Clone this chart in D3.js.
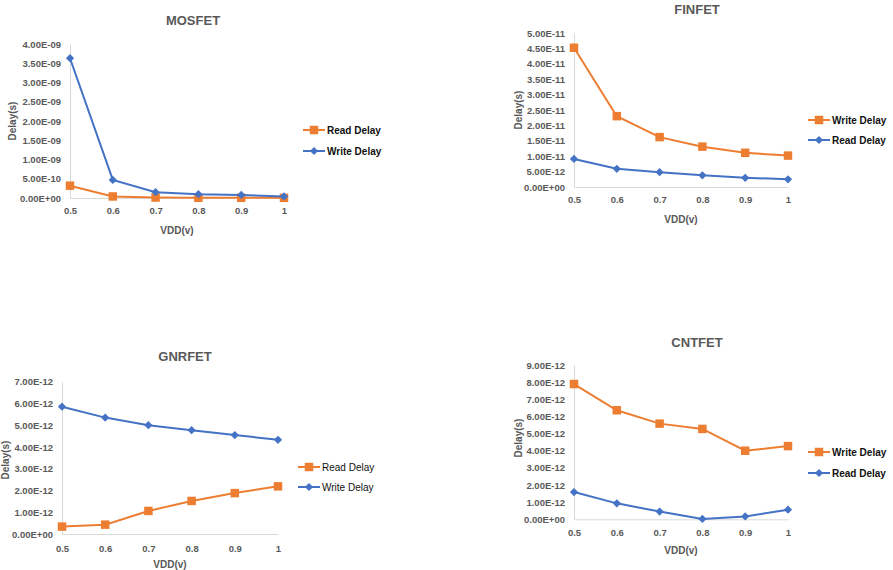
<!DOCTYPE html>
<html lang="en">
<head>
<meta charset="UTF-8">
<title>Delay vs VDD</title>
<script src="https://cdn.jsdelivr.net/npm/d3@7/dist/d3.min.js"></script>
<style>
  body { margin: 0; background: #fff; }
  svg { font-family: "Liberation Sans", Arial, sans-serif; }
</style>
</head>
<body>
<svg width="893" height="570"></svg>
<script>
// VDD sweep shared by every panel
var vdd = [0.5, 0.6, 0.7, 0.8, 0.9, 1];

// MOSFET
var mosRead  = [0.32e-9, 0.04e-9, 0.012e-9, 0.006e-9, 0.005e-9, 0.004e-9];
var mosWrite = [3.63e-9, 0.47e-9, 0.15e-9, 0.10e-9, 0.08e-9, 0.04e-9];
// FINFET
var finWrite = [4.52e-11, 2.30e-11, 1.62e-11, 1.31e-11, 1.11e-11, 1.02e-11];
var finRead  = [0.91e-11, 0.59e-11, 0.48e-11, 0.38e-11, 0.30e-11, 0.25e-11];
// GNRFET
var gnrRead  = [0.34e-12, 0.43e-12, 1.06e-12, 1.52e-12, 1.88e-12, 2.19e-12];
var gnrWrite = [5.85e-12, 5.35e-12, 5.00e-12, 4.77e-12, 4.55e-12, 4.33e-12];
// CNTFET
var cntWrite = [7.89e-12, 6.36e-12, 5.58e-12, 5.27e-12, 4.00e-12, 4.27e-12];
var cntRead  = [1.59e-12, 0.93e-12, 0.45e-12, 0.02e-12, 0.17e-12, 0.56e-12];

var orange = "#ED7D31", blue = "#4472C4";
var svg = d3.select("svg");

// Excel style "4.00E-09"
function sci(v) {
  if (Math.abs(v) < 1e-30) return "0.00E+00";
  var p = v.toExponential(2).split("e");
  var ex = +p[1];
  var s = ex < 0 ? "-" : "+";
  ex = Math.abs(ex);
  return p[0] + "E" + s + (ex < 10 ? "0" + ex : ex);
}

function panel(cfg) {
  var g = svg.append("g");
  var x = d3.scaleLinear().domain([0.5, 1]).range([cfg.x0, cfg.x1]);
  var y = d3.scaleLinear().domain([0, cfg.max]).range([cfg.yb, cfg.yt]);

  var yt = d3.range(0, cfg.max + cfg.step / 2, cfg.step);
  g.append("g").attr("transform", "translate(" + cfg.x0 + ",0)")
    .call(d3.axisLeft(y).tickValues(yt).tickFormat(sci).tickSize(0).tickPadding(9));
  g.append("g").attr("transform", "translate(0," + cfg.yb + ")")
    .call(d3.axisBottom(x).tickValues(vdd).tickFormat(d3.format("")).tickSize(0).tickPadding(cfg.xpad));
  g.selectAll(".domain").attr("stroke", "#d9d9d9");
  g.selectAll(".tick text").attr("fill", "#595959").attr("font-size", 9.5).attr("font-weight", "bold");

  g.append("text").attr("x", cfg.tx).attr("y", cfg.ty).attr("text-anchor", "middle")
    .attr("font-size", 13).attr("font-weight", "bold").attr("fill", "#595959").text(cfg.title);
  g.append("text").attr("x", cfg.xlx).attr("y", cfg.xly).attr("text-anchor", "middle")
    .attr("font-size", 10).attr("font-weight", "bold").attr("fill", "#595959").text("VDD(v)");
  g.append("text").attr("transform", "translate(" + cfg.ylx + "," + cfg.yly + ") rotate(-90)")
    .attr("text-anchor", "middle").attr("dy", "0.35em")
    .attr("font-size", 10).attr("font-weight", "bold").attr("fill", "#595959").text("Delay(s)");

  var line = d3.line().x(function(d, i) { return x(vdd[i]); }).y(function(d) { return y(d); });
  var sq = d3.symbol().type(d3.symbolSquare).size(72);
  var dm = d3.symbol().type(d3.symbolSquare).size(34);

  cfg.series.forEach(function(s, k) {
    var isSq = s.marker === "square";
    var col = isSq ? orange : blue;
    var sym = isSq ? sq : dm;
    var rot = isSq ? "" : " rotate(45)";
    g.append("path").datum(s.values).attr("d", line)
      .attr("fill", "none").attr("stroke", col).attr("stroke-width", 2);
    g.append("g").selectAll("path").data(s.values).enter().append("path")
      .attr("d", sym)
      .attr("transform", function(d, i) { return "translate(" + x(vdd[i]) + "," + y(d) + ")" + rot; })
      .attr("fill", col);

    var ly = cfg.ly[k];
    g.append("line").attr("x1", cfg.lx).attr("x2", cfg.lx + 22).attr("y1", ly).attr("y2", ly)
      .attr("stroke", col).attr("stroke-width", 2);
    g.append("path").attr("d", sym).attr("transform", "translate(" + (cfg.lx + 11) + "," + ly + ")" + rot)
      .attr("fill", col);
    g.append("text").attr("x", cfg.lx + 24).attr("y", ly).attr("dy", "0.35em")
      .attr("font-size", 10).attr("font-weight", cfg.lbold ? "bold" : "normal")
      .attr("fill", "#111").text(s.name);
  });
}

panel({ title: "MOSFET", x0: 70, x1: 284, yt: 44, yb: 198, max: 4e-9, step: 0.5e-9,
  tx: 193, ty: 25, xlx: 177, xly: 234, ylx: 12, yly: 121, xpad: 9,
  lx: 303, ly: [130, 151], lbold: true,
  series: [{ name: "Read Delay", marker: "square", values: mosRead },
           { name: "Write Delay", marker: "diamond", values: mosWrite }] });

panel({ title: "FINFET", x0: 574, x1: 788, yt: 33, yb: 187, max: 5e-11, step: 5e-12,
  tx: 697, ty: 14, xlx: 681, xly: 223, ylx: 518, yly: 110, xpad: 9,
  lx: 808, ly: [120, 140], lbold: true,
  series: [{ name: "Write Delay", marker: "square", values: finWrite },
           { name: "Read Delay", marker: "diamond", values: finRead }] });

panel({ title: "GNRFET", x0: 62, x1: 278, yt: 381.7, yb: 534, max: 7e-12, step: 1e-12,
  tx: 185, ty: 361, xlx: 170, xly: 568, ylx: 5, yly: 460, xpad: 11,
  lx: 298, ly: [467, 487], lbold: false,
  series: [{ name: "Read Delay", marker: "square", values: gnrRead },
           { name: "Write Delay", marker: "diamond", values: gnrWrite }] });

panel({ title: "CNTFET", x0: 574, x1: 788, yt: 365, yb: 519.3, max: 9e-12, step: 1e-12,
  tx: 697, ty: 347, xlx: 681, xly: 554, ylx: 518, yly: 438, xpad: 10,
  lx: 808, ly: [452, 473], lbold: true,
  series: [{ name: "Write Delay", marker: "square", values: cntWrite },
           { name: "Read Delay", marker: "diamond", values: cntRead }] });
</script>
</body>
</html>
